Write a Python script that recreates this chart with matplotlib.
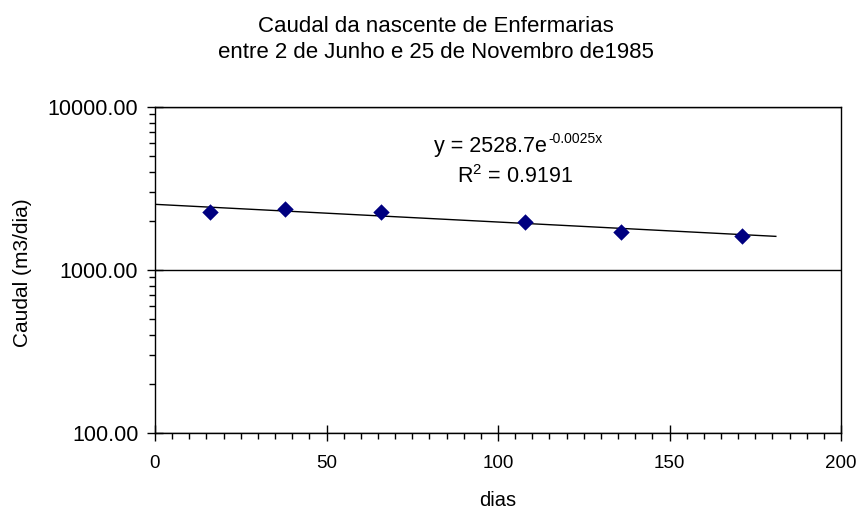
import matplotlib.pyplot as plt
import matplotlib.ticker as mticker
import numpy as np

plt.rcParams['font.family'] = ['Liberation Sans', 'DejaVu Sans']
plt.rcParams['mathtext.fontset'] = 'custom'
plt.rcParams['mathtext.rm'] = 'Liberation Sans'
plt.rcParams['mathtext.default'] = 'regular'

# days since 2 June 1985, flow (m3/day)
dias = [16, 38, 66, 108, 136, 171]
caudal = [2270, 2370, 2260, 1970, 1700, 1625]

# exponential trendline y = a * exp(b x)
trend_a = 2528.7
trend_b = -0.0025
trend_r2 = 0.9191
trend_xmax = 181

W, H = 862, 512
narrow = ['Liberation Sans Narrow', 'Liberation Sans', 'DejaVu Sans']


def fx(px):
    return px / W


def fy(py):
    return 1 - py / H


fig = plt.figure(figsize=(W / 100, H / 100), dpi=100)
ax = fig.add_axes([fx(155), fy(433), fx(841) - fx(155), fy(107) - fy(433)])

xt = np.linspace(0, trend_xmax, 200)
ax.plot(xt, trend_a * np.exp(trend_b * xt), color='black', lw=1, zorder=2)
ax.scatter(dias, caudal, marker='D', s=70, color='#000080', zorder=3, linewidths=0)

ax.set_yscale('log')
ax.set_xlim(0, 200)
ax.set_ylim(100, 10000)
ax.xaxis.set_major_locator(mticker.MultipleLocator(50))
ax.xaxis.set_minor_locator(mticker.MultipleLocator(5))
ax.yaxis.set_major_locator(mticker.LogLocator(base=10))
ax.yaxis.set_minor_locator(mticker.LogLocator(base=10, subs=np.arange(2, 10)))
ax.yaxis.set_major_formatter(mticker.FuncFormatter(lambda v, p: f"{v:.2f}"))
ax.yaxis.set_minor_formatter(mticker.NullFormatter())

ax.tick_params(which='major', direction='inout', length=11, width=1)
ax.tick_params(which='minor', direction='out', length=4.5, width=1)
ax.tick_params(axis='y', which='major', labelsize=15.5, pad=6.5)
ax.tick_params(axis='x', which='major', labelsize=13.5, pad=10)
for lab in ax.get_xticklabels():
    lab.set_family(narrow)
ax.tick_params(axis='both', top=False, right=False)
ax.yaxis.grid(True, which='major', color='black', lw=1)
for s in ax.spines.values():
    s.set_linewidth(1)

# axis titles and chart title
fig.text(fx(498), fy(500), 'dias', ha='center', va='center', fontsize=14.5, family=narrow)
fig.text(fx(23), fy(273), 'Caudal (m3/dia)', ha='center', va='center', rotation=90, fontsize=15)
fig.text(fx(436), fy(27), 'Caudal da nascente de Enfermarias', ha='center', va='center', fontsize=16)
fig.text(fx(436), fy(52), 'entre 2 de Junho e 25 de Novembro de1985', ha='center', va='center', fontsize=16)

# trendline equation
fig.text(fx(547), fy(152), f"y = {trend_a}e", ha='right', va='baseline', fontsize=15.5)
fig.text(fx(548), fy(143), f"{trend_b}x", ha='left', va='baseline', fontsize=10)
fig.text(fx(515), fy(183), f"R$^2$ = {trend_r2}", ha='center', va='baseline', fontsize=15.5)

fig.savefig('out.png')
